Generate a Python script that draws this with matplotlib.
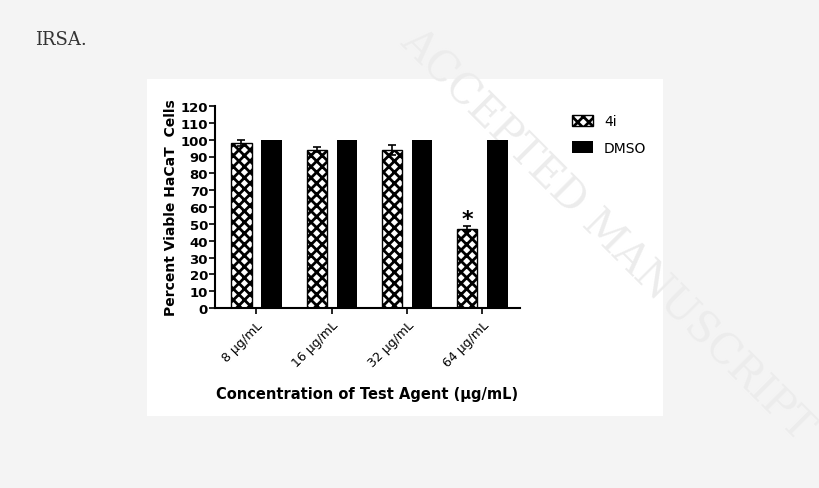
import matplotlib
matplotlib.use("Agg")
import matplotlib.pyplot as plt
import numpy as np

categories = ["8 \u03bcg/mL", "16 \u03bcg/mL", "32 \u03bcg/mL", "64 \u03bcg/mL"]
vals_4i = [98, 94, 94, 47]
err_4i = [2, 1.5, 3, 1.5]
vals_dmso = [100, 100, 100, 100]

plt.rcParams["hatch.linewidth"] = 2.0
fig = plt.figure(figsize=(8.2, 4.89), dpi=100)
fig.patch.set_facecolor("#f4f4f4")

# white panel behind the chart
bg = fig.add_axes([147 / 820, 1 - 417 / 489, 516 / 820, 337 / 489])
bg.set_facecolor("white")
bg.set_xticks([])
bg.set_yticks([])
for s in bg.spines.values():
    s.set_visible(False)
bg.set_zorder(0)

fig.text(35 / 820, 1 - 40 / 489, "IRSA.", family="DejaVu Serif", fontsize=13, color="#333333", va="center")
fig.text(0.74, 0.52, "ACCEPTED MANUSCRIPT", fontsize=30, color="#ececec", family="DejaVu Serif",
         rotation=-45, ha="center", va="center", zorder=1)

ax = fig.add_axes([215 / 820, 1 - 309 / 489, 305 / 820, 202 / 489])
ax.set_zorder(2)
ax.set_facecolor("none")
x = np.arange(len(categories))
w = 0.27
ax.bar(x - 0.2, vals_4i, w, yerr=err_4i, facecolor="white", edgecolor="black", hatch="xxx",
       linewidth=1, capsize=3, error_kw=dict(elinewidth=1.2, capthick=1.2), label="4i")
ax.bar(x + 0.2, vals_dmso, w, color="black", label="DMSO")
ax.text(x[3] - 0.2, vals_4i[3] + 6, "*", ha="center", va="center", fontsize=16, fontweight="bold")

ax.set_ylim(0, 120)
ax.set_yticks(range(0, 121, 10))
ax.set_xlim(-0.55, 3.5)
ax.set_xticks(x)
ax.set_xticklabels(categories, rotation=45, ha="right", rotation_mode="anchor", fontsize=9)
ax.tick_params(axis="y", labelsize=9.5, length=4, width=1.2, pad=1)
ax.tick_params(axis="x", length=4, width=1.2)
for lab in ax.get_yticklabels():
    lab.set_fontweight("bold")
for s in ["top", "right"]:
    ax.spines[s].set_visible(False)
for s in ["left", "bottom"]:
    ax.spines[s].set_linewidth(1.5)
ax.set_ylabel("Percent Viable HaCaT  Cells", fontsize=10, fontweight="bold", labelpad=2)
ax.set_xlabel("Concentration of Test Agent (\u03bcg/mL)", fontsize=10.5, fontweight="bold", labelpad=12)
ax.legend(loc="upper left", bbox_to_anchor=(1.13, 1.02), frameon=False, fontsize=10,
          handlelength=1.5, handleheight=0.9, labelspacing=0.9)

fig.savefig("out.png", dpi=100, facecolor=fig.get_facecolor())
